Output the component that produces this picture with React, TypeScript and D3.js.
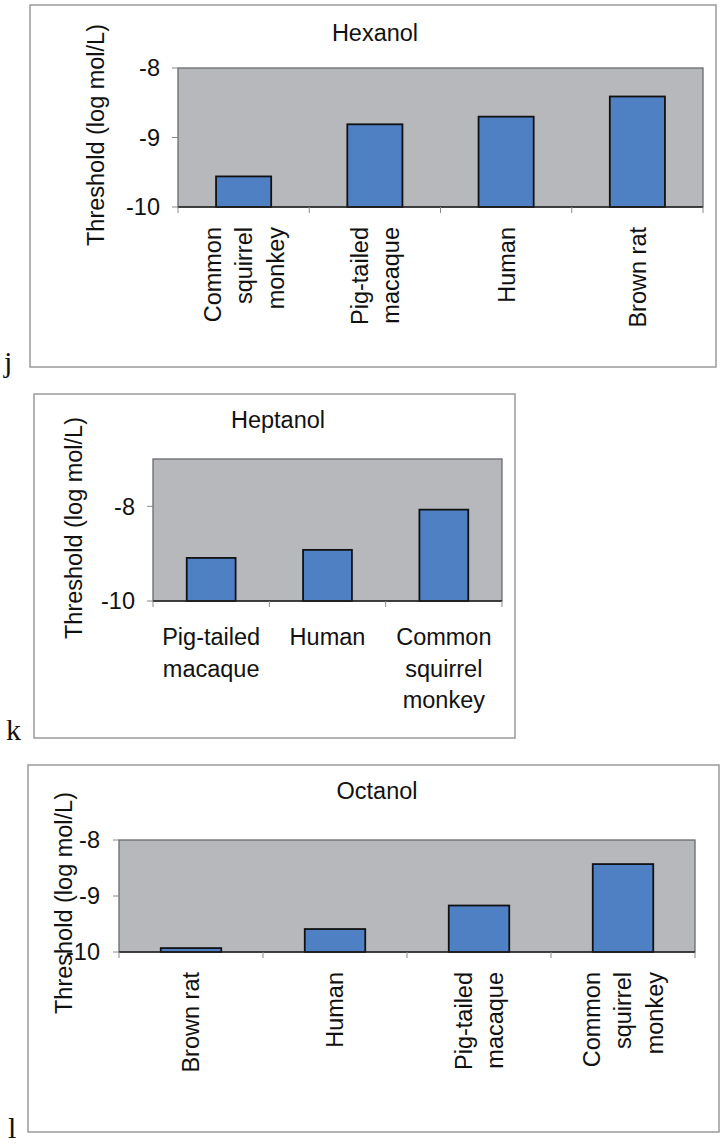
import React from "react";
import * as d3 from "d3";

// ---------- data ----------
const hexanolSpecies = ["Common squirrel monkey", "Pig-tailed macaque", "Human", "Brown rat"];
const hexanolValues = [-9.56, -8.81, -8.7, -8.41];
const hexanolTicks = [-10, -9, -8];

const heptanolSpecies = ["Pig-tailed macaque", "Human", "Common squirrel monkey"];
const heptanolValues = [-9.09, -8.92, -8.07];
const heptanolTicks = [-10, -8];

const octanolSpecies = ["Brown rat", "Human", "Pig-tailed macaque", "Common squirrel monkey"];
const octanolValues = [-9.93, -9.59, -9.17, -8.43];
const octanolTicks = [-10, -9, -8];

const labelLines: Record<string, string[]> = {
  "Common squirrel monkey": ["Common", "squirrel", "monkey"],
  "Pig-tailed macaque": ["Pig-tailed", "macaque"],
  Human: ["Human"],
  "Brown rat": ["Brown rat"],
};

const yTitle = "Threshold (log mol/L)";

// ---------- layout / style ----------
const FONT = "'Liberation Sans', Arial, sans-serif";
const FS = 23.5;
const PLOT_BG = "#b6b8bc";
const BAR_FILL = "#4f80c4";

type PanelProps = {
  title: string;
  letter: string;
  species: string[];
  values: number[];
  ticks: number[];
  domain: [number, number];
  frame: { x: number; y: number; w: number; h: number };
  plot: { x: number; y: number; w: number; h: number };
  titleX: number;
  titleY: number;
  tickRight: number;
  yTitleX: number;
  yTitleY: number;
  rotated: boolean;
  letterX: number;
  letterY: number;
};

function Panel(p: PanelProps) {
  const x = d3
    .scaleBand<string>()
    .domain(p.species)
    .range([p.plot.x, p.plot.x + p.plot.w])
    .paddingInner(0.58)
    .paddingOuter(0.29);
  const y = d3
    .scaleLinear()
    .domain(p.domain)
    .range([p.plot.y + p.plot.h, p.plot.y]);
  const step = x.step();
  const base = y(p.domain[0]);
  const bounds = d3.range(p.species.length + 1).map((i) => p.plot.x + i * step);
  const lineGap = 31.5;

  return (
    <g>
      <rect
        x={p.frame.x}
        y={p.frame.y}
        width={p.frame.w}
        height={p.frame.h}
        fill="white"
        stroke="#9a9a9a"
        strokeWidth={1.5}
      />
      <text
        x={p.letterX}
        y={p.letterY}
        fontFamily="'Liberation Serif', 'Times New Roman', serif"
        fontSize={30}
        fill="#111"
      >
        {p.letter}
      </text>
      <text
        x={p.titleX}
        y={p.titleY}
        textAnchor="middle"
        fontFamily={FONT}
        fontSize={FS}
        fill="#111"
      >
        {p.title}
      </text>
      <rect
        x={p.plot.x}
        y={p.plot.y}
        width={p.plot.w}
        height={p.plot.h}
        fill={PLOT_BG}
        stroke="#6a6a6a"
        strokeWidth={1.3}
      />
      {p.species.map((s, i) => (
        <rect
          key={s}
          x={x(s)}
          y={y(p.values[i])}
          width={x.bandwidth()}
          height={base - y(p.values[i])}
          fill={BAR_FILL}
          stroke="#111"
          strokeWidth={1.8}
        />
      ))}
      {/* category axis */}
      <line
        x1={p.plot.x}
        x2={p.plot.x + p.plot.w}
        y1={base}
        y2={base}
        stroke="#222"
        strokeWidth={1.6}
      />
      {bounds.map((bx, i) => (
        <line key={i} x1={bx} x2={bx} y1={base} y2={base + 6} stroke="#888" strokeWidth={1} />
      ))}
      {/* value axis ticks */}
      {p.ticks.map((t) => (
        <g key={t}>
          <line
            x1={p.plot.x - 6}
            x2={p.plot.x}
            y1={y(t)}
            y2={y(t)}
            stroke="#888"
            strokeWidth={1}
          />
          <text
            x={p.tickRight}
            y={y(t)}
            dy="0.36em"
            textAnchor="end"
            fontFamily={FONT}
            fontSize={FS}
            fill="#111"
          >
            {t}
          </text>
        </g>
      ))}
      <text
        transform={`translate(${p.yTitleX},${p.yTitleY}) rotate(-90)`}
        textAnchor="middle"
        fontFamily={FONT}
        fontSize={FS}
        fill="#111"
      >
        {yTitle}
      </text>
      {/* category labels */}
      {p.species.map((s) => {
        const lines = labelLines[s];
        const cx = (x(s) as number) + x.bandwidth() / 2;
        const n = lines.length;
        return lines.map((ln, j) => {
          if (p.rotated) {
            const lx = cx + (j - (n - 1) / 2) * lineGap;
            return (
              <text
                key={s + j}
                transform={`translate(${lx},${base + 20}) rotate(-90)`}
                dy="0.36em"
                textAnchor="end"
                fontFamily={FONT}
                fontSize={FS}
                fill="#111"
              >
                {ln}
              </text>
            );
          }
          return (
            <text
              key={s + j}
              x={cx}
              y={base + 44 + j * lineGap}
              textAnchor="middle"
              fontFamily={FONT}
              fontSize={FS}
              fill="#111"
            >
              {ln}
            </text>
          );
        });
      })}
    </g>
  );
}

export default function App() {
  return (
    <svg
      width={721}
      height={1145}
      style={{ position: "absolute", left: 0, top: 0, background: "white" }}
    >
      <rect x={0} y={0} width={721} height={1145} fill="white" />
      <Panel
        title="Hexanol"
        letter="j"
        species={hexanolSpecies}
        values={hexanolValues}
        ticks={hexanolTicks}
        domain={[-10, -8]}
        frame={{ x: 30, y: 5, w: 686, h: 362 }}
        plot={{ x: 178, y: 68, w: 525, h: 139 }}
        titleX={375}
        titleY={41}
        tickRight={160}
        yTitleX={104}
        yTitleY={135}
        rotated={true}
        letterX={4}
        letterY={372}
      />
      <Panel
        title="Heptanol"
        letter="k"
        species={heptanolSpecies}
        values={heptanolValues}
        ticks={heptanolTicks}
        domain={[-10, -7]}
        frame={{ x: 34, y: 394, w: 481, h: 344 }}
        plot={{ x: 153, y: 459, w: 349, h: 142 }}
        titleX={278}
        titleY={428}
        tickRight={135}
        yTitleX={82}
        yTitleY={528}
        rotated={false}
        letterX={6}
        letterY={740}
      />
      <Panel
        title="Octanol"
        letter="l"
        species={octanolSpecies}
        values={octanolValues}
        ticks={octanolTicks}
        domain={[-10, -8]}
        frame={{ x: 28, y: 765, w: 691, h: 367 }}
        plot={{ x: 119, y: 840, w: 576, h: 112 }}
        titleX={377}
        titleY={799}
        tickRight={100}
        yTitleX={72}
        yTitleY={903}
        rotated={true}
        letterX={8}
        letterY={1138}
      />
    </svg>
  );
}
